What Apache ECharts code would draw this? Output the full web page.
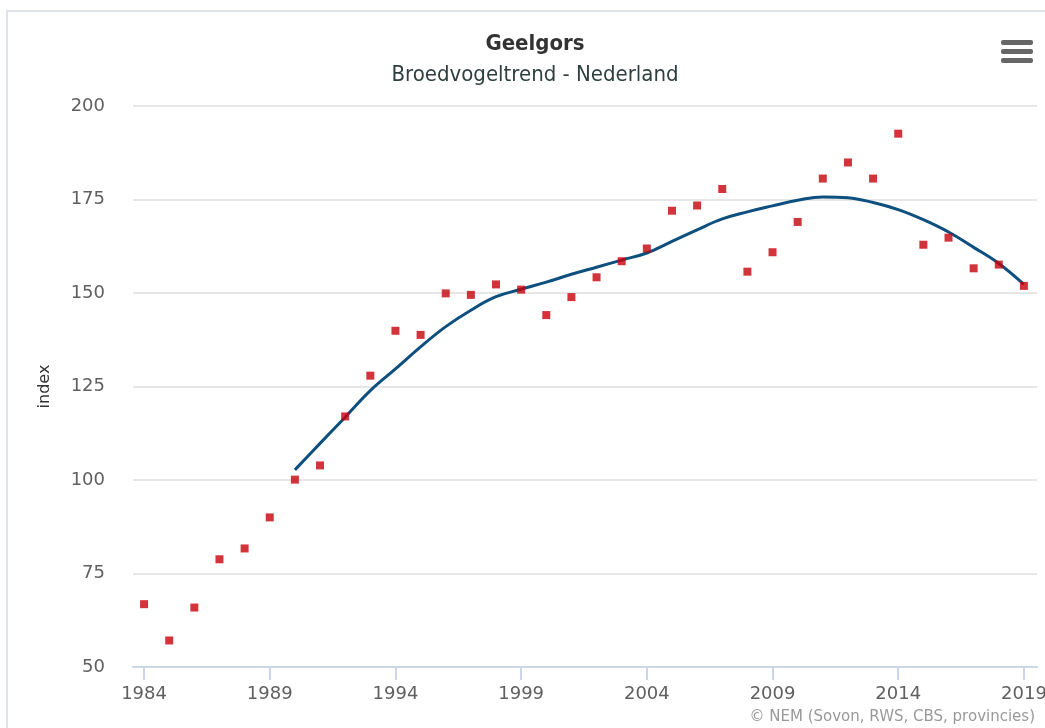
<!DOCTYPE html>
<html>
<head>
<meta charset="utf-8">
<script src="https://cdn.jsdelivr.net/npm/echarts@6/dist/echarts.min.js"></script>
<style>
    html, body { margin: 0; padding: 0; background: #fff; }
    #chart { width: 1045px; height: 728px; }
</style>
</head>
<body>
<div id="chart"></div>
<script>
// jaren en telwaarden (index)
var years = [1984, 1985, 1986, 1987, 1988, 1989, 1990, 1991, 1992, 1993, 1994, 1995,
    1996, 1997, 1998, 1999, 2000, 2001, 2002, 2003, 2004, 2005, 2006, 2007,
    2008, 2009, 2010, 2011, 2012, 2013, 2014, 2015, 2016, 2017, 2018, 2019];
var indexValues = [66.8, 57.1, 65.9, 78.8, 81.7, 90.0, 100.1, 103.9, 117.0, 127.9, 139.9, 138.8,
    149.9, 149.5, 152.3, 150.9, 144.1, 148.9, 154.2, 158.5, 161.9, 172.0, 173.4, 177.8,
    155.7, 160.9, 169.0, 180.6, 184.9, 180.6, 192.6, 162.9, 164.8, 156.6, 157.6, 151.9];

// trendlijn vanaf 1990
var trendYears = [1990, 1991, 1992, 1993, 1994, 1995, 1996, 1997, 1998, 1999, 2000, 2001,
    2002, 2003, 2004, 2005, 2006, 2007, 2008, 2009, 2010, 2011, 2012, 2013,
    2014, 2015, 2016, 2017, 2018, 2019];
var trendValues = [102.7, 109.8, 116.8, 123.9, 129.7, 135.6, 141.0, 145.4, 149.0, 151.0, 152.9, 155.0,
    156.9, 158.8, 160.7, 163.8, 166.9, 169.8, 171.7, 173.3, 174.8, 175.7, 175.5, 174.2,
    172.3, 169.6, 166.3, 162.2, 157.9, 152.3];

var xTicks = [1984, 1989, 1994, 1999, 2004, 2009, 2014, 2019];

var pairs = function (xs, ys) {
    var out = [];
    for (var i = 0; i < xs.length; i++) {
        out.push([xs[i], ys[i]]);
    }
    return out;
};

var chart = echarts.init(document.getElementById('chart'));

var option = {
    animation: false,
    title: {
        text: 'Geelgors',
        subtext: 'Broedvogeltrend - Nederland',
        left: 530,
        top: 27,
        textAlign: 'center',
        itemGap: 8,
        textStyle: {
            fontFamily: 'DejaVu Sans Condensed',
            fontWeight: 'bold',
            fontSize: 22,
            lineHeight: 24,
            color: '#333333'
        },
        subtextStyle: {
            fontFamily: 'DejaVu Sans Condensed',
            fontSize: 22,
            lineHeight: 22,
            color: '#2f3f3f'
        }
    },
    grid: {left: 133, right: 8, top: 106, bottom: 61, outerBoundsMode: 'none'},
    xAxis: {
        type: 'value',
        min: 1983.56,
        max: 2019.52,
        axisLine: {show: true, lineStyle: {color: '#ccd6eb', width: 2}},
        axisTick: {
            show: true,
            length: 13,
            customValues: xTicks,
            lineStyle: {color: '#ccd6eb', width: 2}
        },
        axisLabel: {
            customValues: xTicks,
            margin: 18,
            fontFamily: 'DejaVu Sans',
            fontSize: 18,
            color: '#606060',
            formatter: function (v) {
                return String(v);
            }
        },
        splitLine: {show: false}
    },
    yAxis: {
        type: 'value',
        min: 50,
        max: 200,
        interval: 25,
        name: 'index',
        nameLocation: 'middle',
        nameRotate: 90,
        nameGap: 80,
        nameTextStyle: {fontFamily: 'DejaVu Sans', fontSize: 16, color: '#333333'},
        axisLine: {show: false},
        axisTick: {show: false},
        axisLabel: {
            margin: 28,
            fontFamily: 'DejaVu Sans',
            fontSize: 18,
            color: '#606060'
        },
        splitLine: {lineStyle: {color: '#e6e6e6', width: 2}}
    },
    series: [{
        name: 'trend',
        type: 'line',
        data: pairs(trendYears, trendValues),
        smooth: 0.4,
        showSymbol: false,
        lineStyle: {color: '#0d4f7e', width: 3},
        z: 2
    }, {
        name: 'index',
        type: 'scatter',
        data: pairs(years, indexValues),
        symbol: 'rect',
        symbolSize: 8,
        itemStyle: {color: '#c8000a'},
        z: 3
    }],
    graphic: [{
        type: 'rect',
        shape: {x: 7, y: 11, width: 1100, height: 800},
        style: {fill: 'none', stroke: '#dfe4e8', lineWidth: 2},
        silent: true
    }, {
        type: 'group',
        left: 1001,
        top: 40,
        children: [
            {type: 'rect', shape: {x: 0, y: 0, width: 32, height: 5, r: 2}, style: {fill: '#666666'}},
            {type: 'rect', shape: {x: 0, y: 9, width: 32, height: 5, r: 2}, style: {fill: '#666666'}},
            {type: 'rect', shape: {x: 0, y: 18, width: 32, height: 5, r: 2}, style: {fill: '#666666'}}
        ]
    }, {
        type: 'text',
        right: 10,
        top: 710,
        style: {
            text: '© NEM (Sovon, RWS, CBS, provincies)',
            font: '15px "DejaVu Sans"',
            fill: '#999999'
        }
    }]
};

chart.setOption(option);
</script>
</body>
</html>
